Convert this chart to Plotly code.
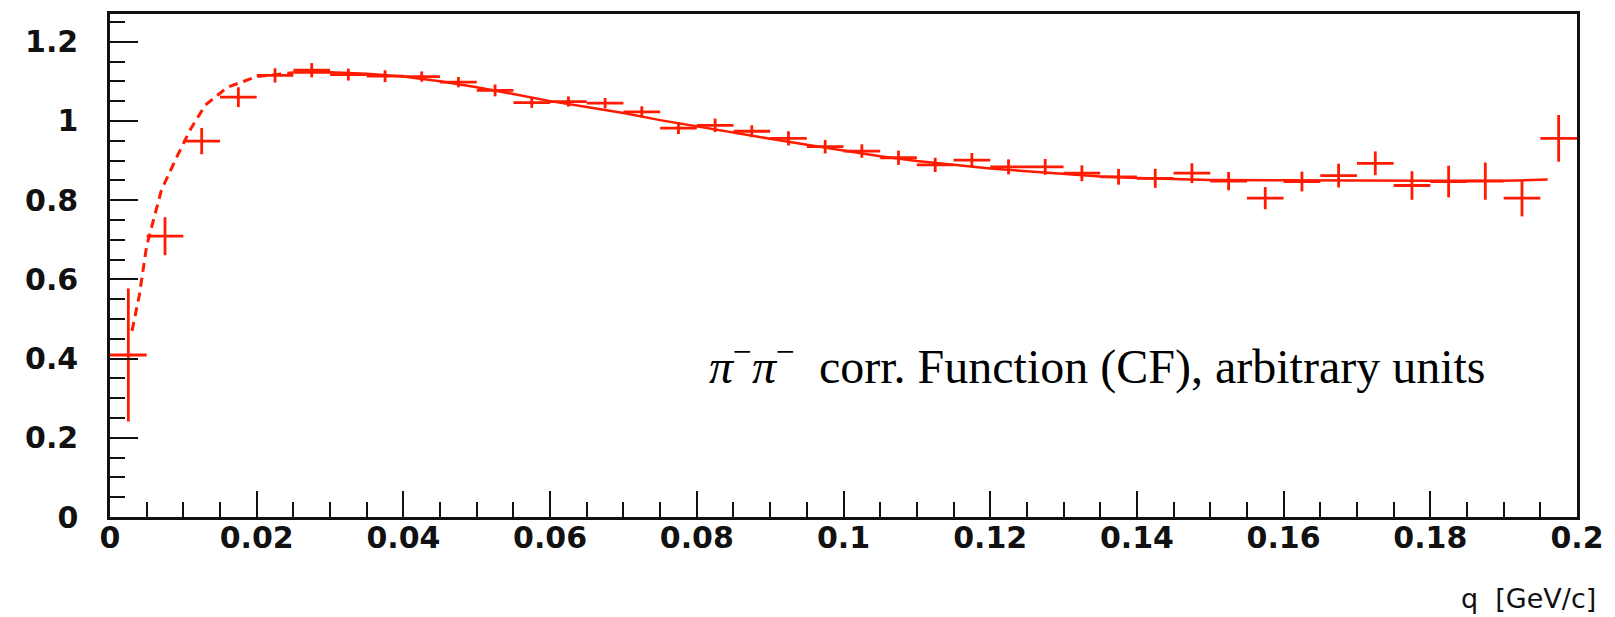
import plotly.graph_objects as go

# ---- data ----
bin_width = 0.005
q_centers = [0.0025 + 0.005 * i for i in range(40)]
cf_values = [0.409, 0.709, 0.949, 1.060, 1.115, 1.128, 1.117, 1.113,
             1.112, 1.098, 1.077, 1.046, 1.049, 1.045, 1.023, 0.982,
             0.989, 0.974, 0.956, 0.935, 0.924, 0.907, 0.889, 0.901,
             0.884, 0.884, 0.868, 0.859, 0.855, 0.868, 0.848, 0.805,
             0.847, 0.862, 0.893, 0.837, 0.847, 0.848, 0.805, 0.956]
cf_errors = [0.168, 0.048, 0.033, 0.025, 0.018, 0.018, 0.015, 0.015,
             0.013, 0.013, 0.015, 0.013, 0.013, 0.013, 0.014, 0.015,
             0.017, 0.015, 0.018, 0.017, 0.017, 0.018, 0.018, 0.018,
             0.019, 0.020, 0.020, 0.020, 0.024, 0.025, 0.023, 0.028,
             0.025, 0.030, 0.030, 0.036, 0.040, 0.047, 0.046, 0.059]

fit_q = [0.003, 0.004, 0.005, 0.006, 0.007, 0.009, 0.011, 0.013, 0.016, 0.020,
         0.025, 0.030, 0.035, 0.040, 0.045, 0.050, 0.055, 0.060, 0.065, 0.070,
         0.075, 0.080, 0.085, 0.090, 0.095, 0.100, 0.105, 0.110, 0.115, 0.120,
         0.125, 0.130, 0.135, 0.140, 0.145, 0.150, 0.160, 0.170, 0.180, 0.190, 0.196]
fit_v = [0.47, 0.56, 0.685, 0.755, 0.825, 0.905, 0.980, 1.040, 1.085, 1.112,
         1.122, 1.123, 1.119, 1.112, 1.100, 1.085, 1.068, 1.050, 1.035, 1.020,
         1.002, 0.986, 0.970, 0.955, 0.940, 0.925, 0.911, 0.899, 0.889, 0.880,
         0.873, 0.866, 0.860, 0.856, 0.853, 0.851, 0.850, 0.849, 0.849, 0.849, 0.852]
dash_until = 10  # fit drawn dashed on the steep rise

x_tick_vals = [0.0, 0.02, 0.04, 0.06, 0.08, 0.1, 0.12, 0.14, 0.16, 0.18, 0.2]
x_tick_text = ["0", "0.02", "0.04", "0.06", "0.08", "0.1", "0.12", "0.14", "0.16", "0.18", "0.2"]
y_tick_vals = [0, 0.2, 0.4, 0.6, 0.8, 1.0, 1.2]
y_tick_text = ["0", "0.2", "0.4", "0.6", "0.8", "1", "1.2"]

RED = "#ff1a00"

fig = go.Figure()

fig.add_trace(go.Scatter(
    x=fit_q[:dash_until + 1], y=fit_v[:dash_until + 1], mode="lines",
    line=dict(color=RED, width=3, dash="9px,6px"), showlegend=False, hoverinfo="skip"))
fig.add_trace(go.Scatter(
    x=fit_q[dash_until:], y=fit_v[dash_until:], mode="lines",
    line=dict(color=RED, width=2.5), showlegend=False, hoverinfo="skip"))

fig.add_trace(go.Scatter(
    x=q_centers, y=cf_values, mode="markers",
    marker=dict(size=1, color="rgba(0,0,0,0)"),
    error_x=dict(type="constant", value=bin_width / 2, color=RED, thickness=2.8, width=0),
    error_y=dict(type="data", array=cf_errors, color=RED, thickness=2.8, width=0),
    showlegend=False))

tickfont = dict(family="DejaVu Sans", size=30, color="#111", weight="bold")

fig.update_layout(
    width=1615, height=617,
    margin=dict(l=110, r=33, t=11, b=100),
    paper_bgcolor="white", plot_bgcolor="white",
    xaxis=dict(range=[0, 0.2], tickvals=x_tick_vals, ticktext=x_tick_text,
               ticks="inside", ticklen=26, tickwidth=2, tickcolor="#111",
               minor=dict(dtick=0.005, tick0=0, ticks="inside", ticklen=15, tickwidth=2, tickcolor="#111"),
               showgrid=False, zeroline=False, showline=True, linecolor="#111",
               linewidth=2.5, mirror=True, tickfont=tickfont, ticklabelstandoff=-8),
    yaxis=dict(range=[0, 1.27], tickvals=y_tick_vals, ticktext=y_tick_text,
               ticks="inside", ticklen=28, tickwidth=2, tickcolor="#111",
               minor=dict(dtick=0.05, tick0=0, ticks="inside", ticklen=15, tickwidth=2, tickcolor="#111"),
               showgrid=False, zeroline=False, showline=True, linecolor="#111",
               linewidth=2.5, mirror=True, tickfont=tickfont, ticklabelstandoff=23),
)

fig.add_annotation(
    text="q\u00a0\u00a0[GeV/c]", xref="paper", yref="paper", x=1, y=0,
    xanchor="right", yanchor="middle", xshift=21, yshift=-81, showarrow=False,
    font=dict(family="DejaVu Sans", size=27, color="#111"))

fig.add_annotation(
    text="<i>π</i><sup>−</sup><i>π</i><sup>−</sup>\u00a0\u00a0corr. Function (CF), arbitrary units",
    xref="paper", yref="paper", x=0.9395, y=0.305, xanchor="right", yanchor="middle",
    showarrow=False, font=dict(family="Liberation Serif", size=48, color="black"))

fig.write_html("out.html")
